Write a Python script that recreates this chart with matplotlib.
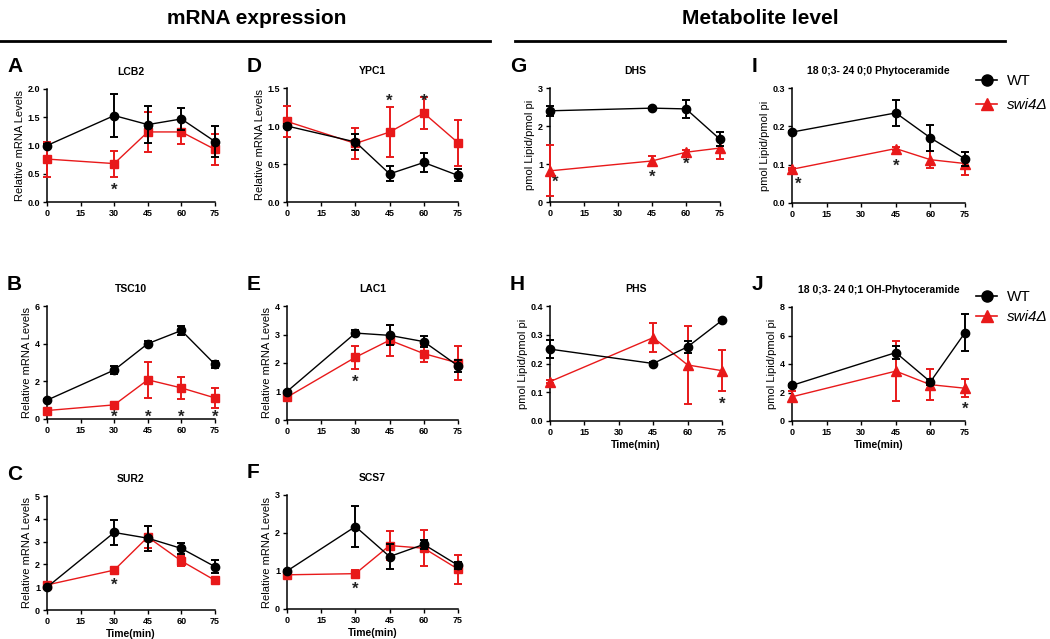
import matplotlib.pyplot as plt
from matplotlib.lines import Line2D
import numpy as np

plt.rcParams['font.family'] = ['Liberation Sans', 'DejaVu Sans']
plt.rcParams['font.weight'] = 'bold'

W, H = 1050, 639
RED = '#e8191a'

t_mrna = [0, 30, 45, 60, 75]
t_met = [0, 45, 60, 75]

# mRNA panels
lcb2_wt = [1.0, 1.53, 1.37, 1.47, 1.07]
lcb2_wt_err = [0.03, 0.38, 0.33, 0.20, 0.27]
lcb2_ko = [0.76, 0.68, 1.24, 1.24, 0.93]
lcb2_ko_err = [0.31, 0.23, 0.35, 0.22, 0.28]

ypc1_wt = [1.0, 0.79, 0.37, 0.52, 0.35]
ypc1_wt_err = [0.02, 0.11, 0.10, 0.13, 0.08]
ypc1_ko = [1.06, 0.77, 0.92, 1.17, 0.78]
ypc1_ko_err = [0.20, 0.20, 0.33, 0.21, 0.30]

tsc10_wt = [1.0, 2.6, 4.0, 4.7, 2.9]
tsc10_wt_err = [0.05, 0.2, 0.15, 0.25, 0.2]
tsc10_ko = [0.45, 0.75, 2.08, 1.65, 1.12]
tsc10_ko_err = [0.05, 0.05, 0.95, 0.57, 0.55]

lac1_wt = [1.0, 3.05, 2.97, 2.75, 1.9]
lac1_wt_err = [0.03, 0.12, 0.35, 0.2, 0.2]
lac1_ko = [0.8, 2.2, 2.8, 2.33, 2.0]
lac1_ko_err = [0.05, 0.4, 0.55, 0.3, 0.6]

sur2_wt = [1.0, 3.4, 3.15, 2.7, 1.9]
sur2_wt_err = [0.03, 0.55, 0.55, 0.25, 0.28]
sur2_ko = [1.1, 1.75, 3.2, 2.15, 1.3]
sur2_ko_err = [0.05, 0.05, 0.5, 0.2, 0.05]

scs7_wt = [1.0, 2.17, 1.38, 1.7, 1.15]
scs7_wt_err = [0.03, 0.53, 0.32, 0.12, 0.1]
scs7_ko = [0.9, 0.93, 1.67, 1.6, 1.05]
scs7_ko_err = [0.03, 0.1, 0.37, 0.48, 0.38]

# metabolite panels
dhs_wt = [2.4, 2.47, 2.45, 1.65]
dhs_wt_err = [0.13, 0.02, 0.23, 0.18]
dhs_ko = [0.82, 1.08, 1.31, 1.42]
dhs_ko_err = [0.67, 0.12, 0.05, 0.28]

phs_wt = [0.25, 0.2, 0.258, 0.35]
phs_wt_err = [0.032, 0.004, 0.02, 0.004]
phs_ko = [0.137, 0.29, 0.195, 0.175]
phs_ko_err = [0.004, 0.05, 0.137, 0.072]

cer00_wt = [0.185, 0.235, 0.17, 0.115]
cer00_wt_err = [0.003, 0.033, 0.034, 0.018]
cer00_ko = [0.088, 0.142, 0.113, 0.103]
cer00_ko_err = [0.002, 0.003, 0.022, 0.03]

cer01_wt = [2.5, 4.8, 2.75, 6.2]
cer01_wt_err = [0.1, 0.45, 0.2, 1.3]
cer01_ko = [1.7, 3.5, 2.55, 2.3]
cer01_ko_err = [0.4, 2.1, 1.1, 0.62]

MRNA = 'Relative mRNA Levels'
LIPID = 'pmol Lipid/pmol pi'

panels = [
    # letter, title, ylabel, ymax, ystep, yfmt, t, wt, wterr, ko, koerr, marker, box(x0,x75,ytop,ybot), xlabel, stars
    ('A', 'LCB2', MRNA, 2.0, 0.5, '%.1f', t_mrna, lcb2_wt, lcb2_wt_err, lcb2_ko, lcb2_ko_err, 's',
     (47, 215, 89, 202), False, [(30, 0.27)]),
    ('D', 'YPC1', MRNA, 1.5, 0.5, '%.1f', t_mrna, ypc1_wt, ypc1_wt_err, ypc1_ko, ypc1_ko_err, 's',
     (287, 458, 88, 202), False, [(45, 1.38), (60, 1.38)]),
    ('B', 'TSC10', MRNA, 6, 2, '%d', t_mrna, tsc10_wt, tsc10_wt_err, tsc10_ko, tsc10_ko_err, 's',
     (47, 215, 306, 419), False, [(30, 0.28), (45, 0.28), (60, 0.28), (75, 0.28)]),
    ('E', 'LAC1', MRNA, 4, 1, '%d', t_mrna, lac1_wt, lac1_wt_err, lac1_ko, lac1_ko_err, 's',
     (287, 458, 306, 420), False, [(30, 1.47)]),
    ('C', 'SUR2', MRNA, 5, 1, '%d', t_mrna, sur2_wt, sur2_wt_err, sur2_ko, sur2_ko_err, 's',
     (47, 215, 496, 610), True, [(30, 1.27)]),
    ('F', 'SCS7', MRNA, 3, 1, '%d', t_mrna, scs7_wt, scs7_wt_err, scs7_ko, scs7_ko_err, 's',
     (287, 458, 495, 609), True, [(30, 0.63)]),
    ('G', 'DHS', LIPID, 3, 1, '%d', t_met, dhs_wt, dhs_wt_err, dhs_ko, dhs_ko_err, '^',
     (550, 720, 88, 202), False, [(2.2, 0.63), (45, 0.76), (60, 1.1)]),
    ('I', '18 0;3- 24 0;0 Phytoceramide', LIPID, 0.3, 0.1, '%.1f', t_met, cer00_wt, cer00_wt_err,
     cer00_ko, cer00_ko_err, '^', (792, 965, 88, 203), False, [(2.6, 0.06), (45, 0.107)]),
    ('H', 'PHS', LIPID, 0.4, 0.1, '%.1f', t_met, phs_wt, phs_wt_err, phs_ko, phs_ko_err, '^',
     (550, 722, 306, 421), True, [(75, 0.07)]),
    ('J', '18 0;3- 24 0;1 OH-Phytoceramide', LIPID, 8, 2, '%d', t_met, cer01_wt, cer01_wt_err,
     cer01_ko, cer01_ko_err, '^', (792, 965, 307, 421), True, [(75, 1.12)]),
]

fig = plt.figure(figsize=(W / 100, H / 100), dpi=100)

for (letter, title, ylabel, ymax, ystep, yfmt, t, wt, wterr, ko, koerr, mk,
     box, xlab, stars) in panels:
    x0, x75, ytop, ybot = box
    ax = fig.add_axes([x0 / W, 1 - ybot / H, (x75 - x0) / W, (ybot - ytop) / H])
    ax.errorbar(t, ko, yerr=koerr, color=RED, marker=mk, ms=6 if mk == 's' else 7,
                lw=1, elinewidth=1.4, capsize=3, capthick=1.4, clip_on=False, zorder=3)
    ax.errorbar(t, wt, yerr=wterr, color='black', marker='o', ms=6,
                lw=1, elinewidth=1.4, capsize=3, capthick=1.4, clip_on=False, zorder=4)
    for sx, sy in stars:
        ax.annotate('*', (sx, sy), xytext=(0, -6), textcoords='offset points',
                    ha='center', va='baseline', fontsize=12, color='#222222')
    ax.set_xlim(0, 75)
    ax.set_ylim(0, ymax)
    ax.set_xticks([0, 15, 30, 45, 60, 75])
    yt = np.arange(0, ymax + ystep / 2, ystep)
    ax.set_yticks(yt)
    ax.set_yticklabels([yfmt % v for v in yt])
    ax.tick_params(labelsize=6.5, length=3, width=1, pad=2)
    for s in ('top', 'right'):
        ax.spines[s].set_visible(False)
    for s in ('left', 'bottom'):
        ax.spines[s].set_linewidth(1.1)
    ax.set_ylabel(ylabel, fontsize=8, fontweight='normal', labelpad=2)
    ax.set_title(title, fontsize=7.5, fontweight='bold', pad=10)
    if xlab:
        ax.set_xlabel('Time(min)', fontsize=7.5, fontweight='bold', labelpad=2)
    fig.text((x0 - 40) / W, 1 - (ytop - 22) / H, letter, fontsize=15, fontweight='bold',
             ha='left', va='center')

# section headers
fig.text(257 / W, 1 - 18 / H, 'mRNA expression', ha='center', va='center', fontsize=15,
         fontweight='bold')
fig.text(760 / W, 1 - 18 / H, 'Metabolite level', ha='center', va='center', fontsize=15,
         fontweight='bold')
fig.add_artist(Line2D([0, 490 / W], [1 - 41 / H] * 2, color='black', lw=2))
fig.add_artist(Line2D([515 / W, 1005 / W], [1 - 41 / H] * 2, color='black', lw=2))

# legends
handles = [Line2D([], [], color='black', marker='o', ms=8, lw=1.2),
           Line2D([], [], color=RED, marker='^', ms=9, lw=1.2)]
for ly, sp in ((74, 0.65), (290, 0.4)):
    leg = fig.legend(handles, ['WT', 'swi4Δ'], loc='upper left',
                     bbox_to_anchor=(976 / W, 1 - ly / H), frameon=False, fontsize=11,
                     handlelength=1.4, handletextpad=0.6, labelspacing=sp,
                     borderaxespad=0, borderpad=0)
    for txt in leg.get_texts():
        txt.set_fontweight('normal')
    leg.get_texts()[1].set_style('italic')

fig.savefig('out.png', dpi=100)
